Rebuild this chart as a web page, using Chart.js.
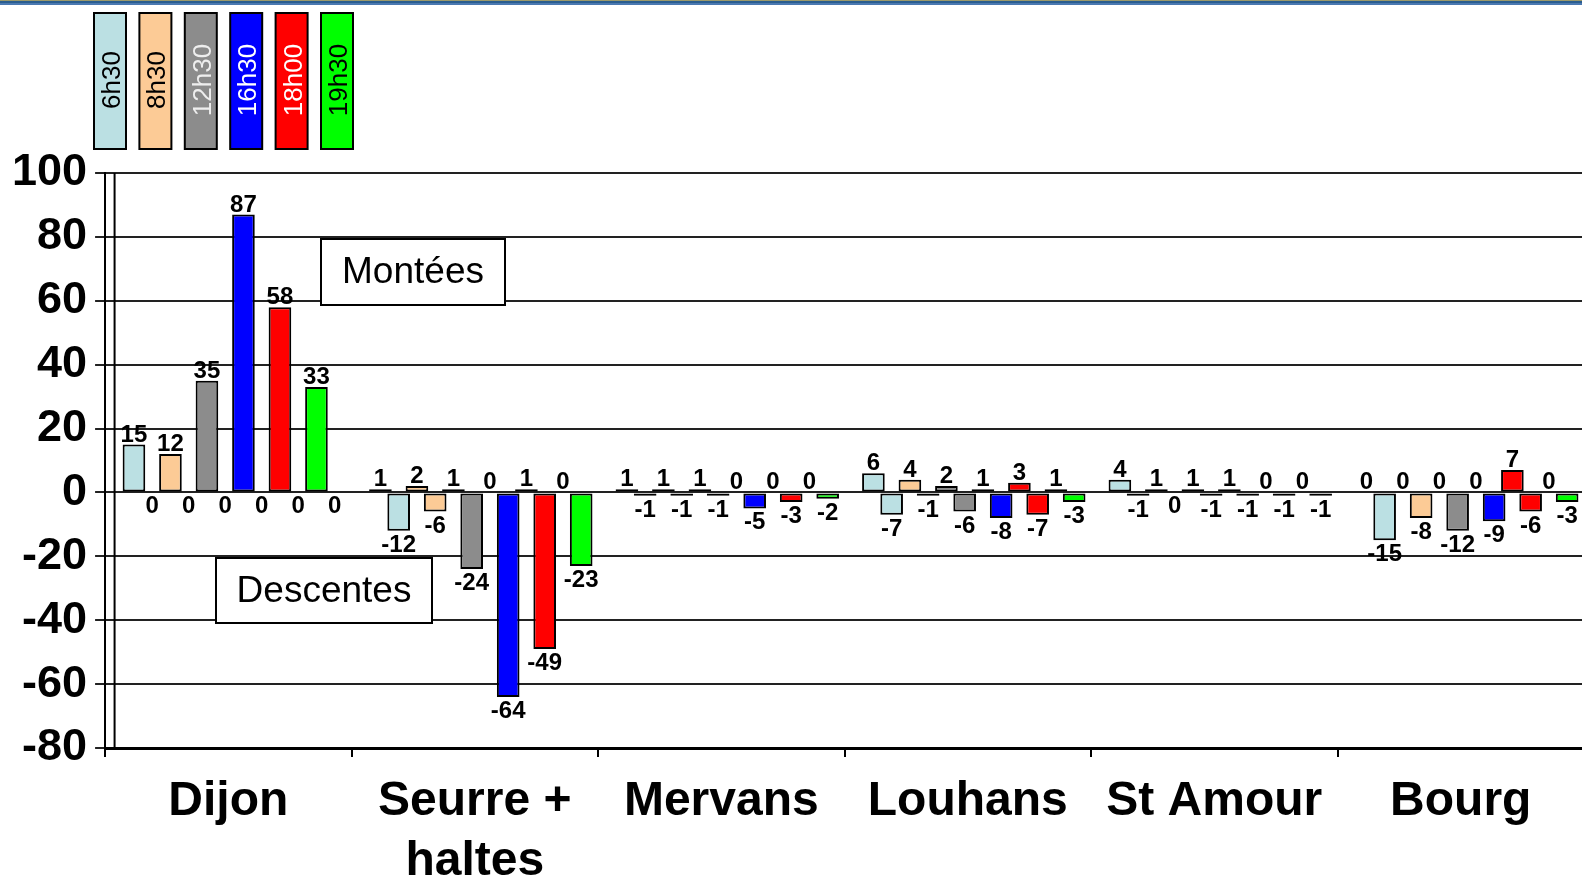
<!DOCTYPE html>
<html>
<head>
<meta charset="utf-8">
<script src="https://cdn.jsdelivr.net/npm/chart.js@4.4.1/dist/chart.umd.min.js"></script>
<style>
  html, body { margin: 0; padding: 0; background: #fff; overflow: hidden; }
  #wrap { position: relative; width: 1590px; height: 917px; }
  #topline {
    position: absolute; left: 0; top: 0; width: 100%; height: 5px;
    background: linear-gradient(#9c9a6a 0, #9c9a6a 1px, #2a5d8f 1px, #2a5d8f 3px, #4a78b0 3px, #4a78b0 5px);
  }
</style>
</head>
<body>
<div id="wrap">
  <canvas id="chart"></canvas>
  <div id="topline"></div>
</div>
<script>
const stations = [['Dijon'], ['Seurre +', 'haltes'], ['Mervans'], ['Louhans'], ['St Amour'], ['Bourg']];
const horaires = ['6h30', '8h30', '12h30', '16h30', '18h00', '19h30'];
const couleurs = ['#bbe0e3', '#fccb96', '#8c8c8c', '#0000ff', '#ff0000', '#00ff00'];
const couleursTexte = ['#000', '#000', '#eeeeee', '#fff', '#fff', '#000'];

// one row per horaire, one value per station
const montees = [
  [15, 1, 1, 6, 4, 0],
  [12, 2, 1, 4, 1, 0],
  [35, 1, 1, 2, 1, 0],
  [87, 0, 0, 1, 1, 0],
  [58, 1, 0, 3, 0, 7],
  [33, 0, 0, 1, 0, 0],
];
const descentes = [
  [0, -12, -1, -7, -1, -15],
  [0, -6, -1, -1, 0, -8],
  [0, -24, -1, -6, -1, -12],
  [0, -64, -5, -8, -1, -9],
  [0, -49, -3, -7, -1, -6],
  [0, -23, -2, -3, -1, -3],
];
const yTicks = [-80, -60, -40, -20, 0, 20, 40, 60, 80, 100];

const FONT = '"Liberation Sans", Arial, sans-serif';
Chart.defaults.font.family = FONT;

const datasets = [];
horaires.forEach((h, i) => {
  [['montee', montees[i]], ['descente', descentes[i]]].forEach(([sens, values]) => {
    datasets.push({
      label: h,
      sens: sens,
      data: values,
      xAxisID: 'xb',
      backgroundColor: couleurs[i],
      borderColor: '#000',
      borderWidth: 2,
      borderSkipped: false,
      categoryPercentage: 0.8885,
      barPercentage: 1.24,
    });
  });
});

// bars sit a little right of the category ticks in the original
const barShift = {
  id: 'barShift',
  afterLayout(chart) {
    const s = chart.scales.xb;
    s.left += 6;
    s.right += 6;
    s.configure();
  },
};

const innerWall = {
  id: 'innerWall',
  beforeDatasetsDraw(chart) {
    const { ctx, chartArea } = chart;
    ctx.save();
    ctx.strokeStyle = '#000';
    ctx.lineWidth = 2;
    ctx.beginPath();
    ctx.moveTo(chartArea.left + 9.5, chartArea.top);
    ctx.lineTo(chartArea.left + 9.5, chartArea.bottom);
    ctx.stroke();
    ctx.restore();
  },
};

const valueLabels = {
  id: 'valueLabels',
  afterDatasetsDraw(chart) {
    const ctx = chart.ctx;
    ctx.save();
    ctx.font = 'bold 24px ' + FONT;
    ctx.fillStyle = '#000';
    ctx.textAlign = 'center';
    ctx.textBaseline = 'alphabetic';
    chart.data.datasets.forEach((ds, di) => {
      chart.getDatasetMeta(di).data.forEach((bar, j) => {
        const y = ds.sens === 'montee'
          ? Math.min(bar.y, bar.base) - 3
          : Math.max(bar.y, bar.base) + 21;
        ctx.fillText(String(ds.data[j]), bar.x, y);
      });
    });
    ctx.restore();
  },
};

const decor = {
  id: 'decor',
  afterDraw(chart) {
    const ctx = chart.ctx;
    ctx.save();
    // legend: one upright box per horaire
    chart.data.datasets.filter((ds) => ds.sens === 'montee').forEach((ds, i) => {
      const x = 94 + i * 45.4;
      ctx.fillStyle = ds.backgroundColor;
      ctx.fillRect(x, 13, 32, 136);
      ctx.strokeStyle = '#000';
      ctx.lineWidth = 2;
      ctx.strokeRect(x, 13, 32, 136);
      ctx.save();
      ctx.translate(x + 26, 80);
      ctx.rotate(-Math.PI / 2);
      ctx.font = '26px ' + FONT;
      ctx.fillStyle = couleursTexte[i];
      ctx.textAlign = 'center';
      ctx.textBaseline = 'alphabetic';
      ctx.fillText(ds.label, 0, 0);
      ctx.restore();
    });

    const box = (x, y, w, h, text) => {
      ctx.fillStyle = '#fff';
      ctx.fillRect(x, y, w, h);
      ctx.strokeStyle = '#000';
      ctx.lineWidth = 2;
      ctx.strokeRect(x, y, w, h);
      ctx.font = '37px ' + FONT;
      ctx.fillStyle = '#000';
      ctx.textAlign = 'center';
      ctx.textBaseline = 'middle';
      ctx.fillText(text, x + w / 2, y + h / 2 + 1);
    };
    box(321, 239, 184, 66, 'Montées');
    box(216, 558, 216, 65, 'Descentes');
    ctx.restore();
  },
};

const ctx = document.getElementById('chart').getContext('2d');

new Chart(ctx, {
  type: 'bar',
  data: {
    labels: stations,
    datasets: datasets,
  },
  options: {
    responsive: true,
    maintainAspectRatio: false,
    animation: false,
    layout: {
      padding: { left: 4, top: 173, right: 6, bottom: 10 },
    },
    plugins: {
      legend: { display: false },
      tooltip: { enabled: false },
    },
    scales: {
      x: {
        type: 'category',
        offset: true,
        grid: {
          offset: true,
          drawOnChartArea: false,
          drawTicks: true,
          tickLength: 9,
          color: '#000',
          lineWidth: 2,
        },
        border: { color: '#000', width: 3 },
        ticks: {
          color: '#000',
          font: { size: 48, weight: 'bold', lineHeight: 1.25 },
          padding: 15,
          maxRotation: 0,
          autoSkip: false,
        },
      },
      xb: {
        type: 'category',
        offset: true,
        display: false,
      },
      y: {
        min: -80,
        max: 100,
        afterBuildTicks: (axis) => {
          axis.ticks = yTicks.map((v) => ({ value: v }));
        },
        grid: {
          color: '#222',
          lineWidth: 2,
          tickLength: 10,
        },
        border: { color: '#000', width: 2 },
        ticks: {
          color: '#000',
          font: { size: 45, weight: 'bold' },
          padding: 8,
        },
      },
    },
  },
  plugins: [barShift, innerWall, valueLabels, decor],
});
</script>
</body>
</html>
